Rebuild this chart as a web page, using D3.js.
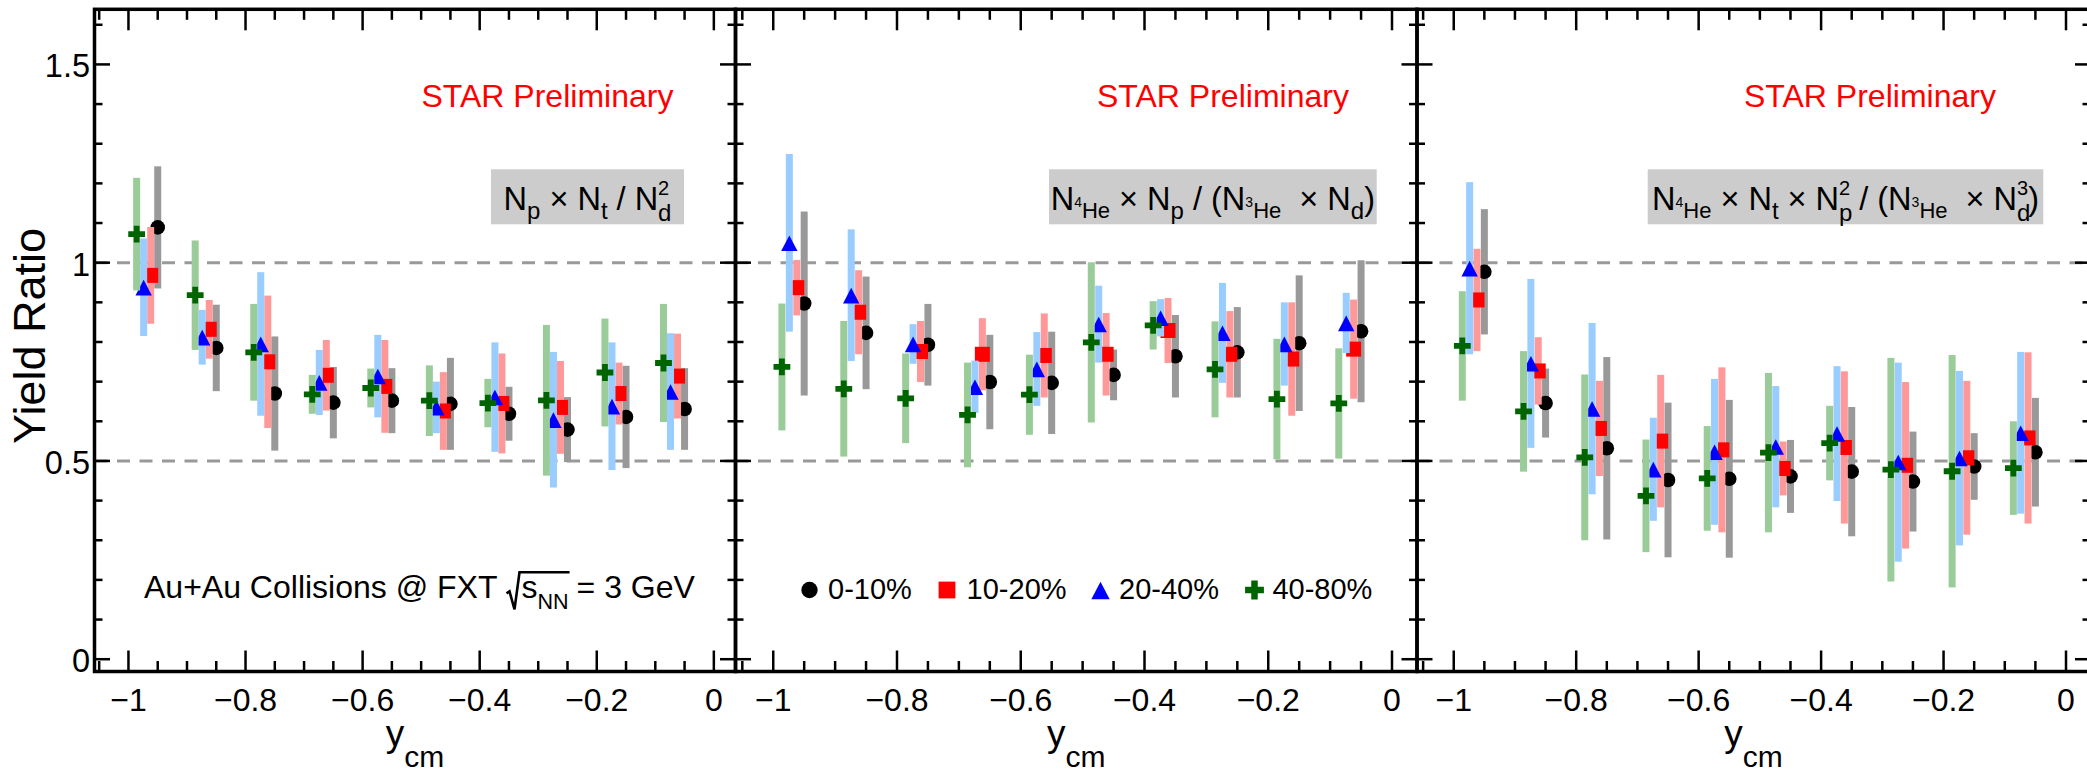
<!DOCTYPE html>
<html>
<head>
<meta charset="utf-8">
<script src="https://cdn.jsdelivr.net/npm/d3@7"></script>
<style>
  html, body { margin: 0; padding: 0; background: #fff; }
  svg { display: block; }
  text { font-family: "Liberation Sans", Arial, Helvetica, sans-serif; fill: #000; }
</style>
</head>
<body>
<svg id="chart" width="2087" height="778"></svg>
<script>
// ---------------------------------------------------------------------------
// Light-nuclei yield ratios vs rapidity, Au+Au @ 3 GeV, four centralities.
// Each point: central value and symmetric systematic uncertainty.
// ---------------------------------------------------------------------------
const rapidity = [-0.95, -0.85, -0.75, -0.65, -0.55, -0.45, -0.35, -0.25, -0.15, -0.05];
const centralityLabels = ["0-10%", "10-20%", "20-40%", "40-80%"];

const xTickValues = [-1, -0.8, -0.6, -0.4, -0.2, 0];
const xTickLabels = ["\u22121", "\u22120.8", "\u22120.6", "\u22120.4", "\u22120.2", "0"];
const yTickValues = [0, 0.5, 1, 1.5];
const yTickLabels = ["0", "0.5", "1", "1.5"];
const referenceLevels = [0.5, 1];

// Np x Nt / Nd^2
const r1_0010 = [1.089, 0.785, 0.670, 0.647, 0.652, 0.644, 0.619, 0.579, 0.611, 0.631];
const r1_0010_sys = [0.154, 0.109, 0.144, 0.090, 0.082, 0.116, 0.068, 0.082, 0.129, 0.103];
const r1_1020 = [0.968, 0.832, 0.750, 0.716, 0.688, 0.626, 0.645, 0.635, 0.670, 0.714];
const r1_1020_sys = [0.122, 0.074, 0.167, 0.089, 0.117, 0.098, 0.126, 0.117, 0.078, 0.107];
const r1_2040 = [0.938, 0.812, 0.795, 0.698, 0.714, 0.635, 0.661, 0.604, 0.638, 0.675];
const r1_2040_sys = [0.123, 0.069, 0.181, 0.082, 0.104, 0.065, 0.138, 0.171, 0.161, 0.147];
const r1_4080 = [1.072, 0.918, 0.774, 0.668, 0.684, 0.652, 0.646, 0.653, 0.723, 0.747];
const r1_4080_sys = [0.142, 0.138, 0.122, 0.049, 0.049, 0.089, 0.061, 0.190, 0.136, 0.149];

// N4He x Np / (N3He x Nd)
const r2_0010 = [0.897, 0.823, 0.793, 0.699, 0.697, 0.717, 0.764, 0.774, 0.797, 0.827];
const r2_0010_sys = [0.232, 0.142, 0.103, 0.119, 0.129, 0.064, 0.104, 0.114, 0.171, 0.179];
const r2_1020 = [0.937, 0.875, 0.776, 0.769, 0.766, 0.769, 0.829, 0.769, 0.757, 0.782];
const r2_1020_sys = [0.070, 0.106, 0.077, 0.091, 0.106, 0.104, 0.082, 0.109, 0.143, 0.125];
const r2_2040 = [1.050, 0.918, 0.795, 0.687, 0.732, 0.845, 0.861, 0.823, 0.795, 0.848];
const r2_2040_sys = [0.224, 0.166, 0.050, 0.066, 0.093, 0.097, 0.047, 0.126, 0.105, 0.076];
const r2_4080 = [0.737, 0.682, 0.658, 0.616, 0.667, 0.799, 0.842, 0.731, 0.656, 0.645];
const r2_4080_sys = [0.160, 0.171, 0.113, 0.132, 0.101, 0.202, 0.061, 0.121, 0.152, 0.139];

// N4He x Nt x Np^2 / (N3He x Nd^3)
const r3_0010 = [0.977, 0.646, 0.532, 0.452, 0.455, 0.461, 0.473, 0.448, 0.486, 0.522];
const r3_0010_sys = [0.158, 0.087, 0.230, 0.195, 0.199, 0.092, 0.163, 0.126, 0.084, 0.137];
const r3_1020 = [0.906, 0.727, 0.582, 0.550, 0.528, 0.481, 0.534, 0.489, 0.508, 0.558];
const r3_1020_sys = [0.129, 0.085, 0.120, 0.167, 0.208, 0.068, 0.192, 0.210, 0.194, 0.216];
const r3_2040 = [0.986, 0.746, 0.632, 0.479, 0.523, 0.536, 0.569, 0.497, 0.507, 0.571];
const r3_2040_sys = [0.217, 0.213, 0.216, 0.130, 0.184, 0.153, 0.170, 0.251, 0.220, 0.204];
const r3_4080 = [0.790, 0.625, 0.509, 0.412, 0.456, 0.521, 0.545, 0.478, 0.474, 0.482];
const r3_4080_sys = [0.138, 0.152, 0.209, 0.142, 0.132, 0.201, 0.094, 0.282, 0.293, 0.118];

// ---------------------------------------------------------------------------
// Styling and layout
// ---------------------------------------------------------------------------
const seriesStyle = [
  { shape: "circle",   color: "#000000", band: "#999999", shift: 0 },
  { shape: "square",   color: "#ff0000", band: "#ff9999", shift: -0.012 },
  { shape: "triangle", color: "#0000ff", band: "#99ccff", shift: -0.024 },
  { shape: "cross",    color: "#006400", band: "#99cc99", shift: -0.036 }
];
const BAND_W = 7;

const yDomain = [-0.031, 1.639];
const plotTop = 9.3, plotBottom = 671.5;

const M = 32.5, S = 24, P = 20, H = 22;  // formula font sizes (main, sub, sup, nucleus)
const SUB = 9, SUB2 = 11, SUP = -15;     // baseline shifts
const NB = "\u00a0";

const panels = [
  {
    x0: 94.5, x1: 735.5, xDomain: [-1.058, 0.037],
    series: [[r1_0010, r1_0010_sys], [r1_1020, r1_1020_sys], [r1_2040, r1_2040_sys], [r1_4080, r1_4080_sys]],
    starX: 421.5, box: [491, 684], yLabels: true,
    formula: [
      { t: "N", s: M }, { t: "p", s: S, d: SUB },
      { t: NB + "\u00d7" + NB + "N", s: M }, { t: "t", s: S, d: SUB },
      { t: NB + "/" + NB + "N", s: M }, { stack: [{ t: "d", s: S, d: SUB2 }, { t: "2", s: P, d: SUP }] }
    ]
  },
  {
    x0: 735.5, x1: 1417, xDomain: [-1.061, 0.0404],
    series: [[r2_0010, r2_0010_sys], [r2_1020, r2_1020_sys], [r2_2040, r2_2040_sys], [r2_4080, r2_4080_sys]],
    starX: 1097, box: [1049, 1376.7], yLabels: false, legend: true,
    formula: [
      { t: "N", s: M }, { t: "4", s: 14, d: -3 }, { t: "He", s: H, d: 8 },
      { t: NB + "\u00d7" + NB + "N", s: M }, { t: "p", s: S, d: SUB },
      { t: NB + "/" + NB + "(N", s: M }, { t: "3", s: 14, d: -3 }, { t: "He", s: H, d: 8 },
      { t: NB + NB + "\u00d7" + NB + "N", s: M }, { t: "d", s: S, d: SUB }, { t: ")", s: M }
    ]
  },
  {
    x0: 1417, x1: 2090.5, xDomain: [-1.06, 0.04],
    series: [[r3_0010, r3_0010_sys], [r3_1020, r3_1020_sys], [r3_2040, r3_2040_sys], [r3_4080, r3_4080_sys]],
    starX: 1744, box: [1647.7, 2043.3], yLabels: false,
    formula: [
      { t: "N", s: M }, { t: "4", s: 14, d: -3 }, { t: "He", s: H, d: 8 },
      { t: NB + "\u00d7" + NB + "N", s: M }, { t: "t", s: S, d: SUB },
      { t: NB + "\u00d7" + NB + "N", s: M }, { stack: [{ t: "p", s: S, d: SUB2 }, { t: "2", s: P, d: SUP }] },
      { t: NB + "/" + NB + "(N", s: M }, { t: "3", s: 14, d: -3 }, { t: "He", s: H, d: 8 },
      { t: NB + NB + "\u00d7" + NB + "N", s: M }, { stack: [{ t: "d", s: S, d: SUB2 }, { t: "3", s: P, d: SUP }] },
      { t: ")", s: M }
    ]
  }
];

const legendItems = [
  { markerX: 809.5, textX: 828 },
  { markerX: 947, textX: 966.6 },
  { markerX: 1100.5, textX: 1119 },
  { markerX: 1254.5, textX: 1272.4 }
];

// ---------------------------------------------------------------------------
// Helpers
// ---------------------------------------------------------------------------
const svg = d3.select("#chart");

function drawMarker(g, shape, cx, cy, color, k = 1) {
  if (shape === "circle") {
    g.append("circle").attr("cx", cx).attr("cy", cy).attr("r", 7.3 * k).attr("fill", color);
  } else if (shape === "square") {
    g.append("rect").attr("x", cx - 7.5 * k).attr("y", cy - 7.5 * k)
      .attr("width", 15 * k).attr("height", 15 * k).attr("fill", color);
  } else if (shape === "triangle") {
    g.append("path")
      .attr("d", `M${cx},${cy - 7.4 * k}L${cx + 8.2 * k},${cy + 8.2 * k}L${cx - 8.2 * k},${cy + 8.2 * k}Z`)
      .attr("fill", color);
  } else {
    const a = 8.4 * k, t = 2.9 * k;
    g.append("path")
      .attr("d", `M${cx - t},${cy - a}H${cx + t}V${cy - t}H${cx + a}V${cy + t}H${cx + t}V${cy + a}` +
                 `H${cx - t}V${cy + t}H${cx - a}V${cy - t}H${cx - t}Z`)
      .attr("fill", color);
  }
}

// One <text> element holding a formula: tspans carry the sub/superscript shifts,
// stacked scripts share a horizontal slot. Returns the element and its width.
function formulaText(g, parts, baseY) {
  const txt = g.append("text").attr("x", 0).attr("y", baseY);
  const span = (p, extra) => {
    const s = txt.append("tspan").attr("y", baseY + (p.d || 0))
      .style("font-size", p.s + "px").text(p.t);
    if (extra) s.attr("dx", extra);
    return s.node().getComputedTextLength();
  };
  parts.forEach(p => {
    if (p.stack) {
      const w0 = span(p.stack[0]);
      const w1 = span(p.stack[1], -w0);
      if (w1 < w0) txt.append("tspan").attr("dx", w0 - w1).style("font-size", "1px").text("");
    } else {
      span(p);
    }
  });
  return { el: txt, width: txt.node().getBBox().width };
}

const yScale = d3.scaleLinear().domain(yDomain).range([plotBottom, plotTop]);

// ---------------------------------------------------------------------------
// Panels
// ---------------------------------------------------------------------------
panels.forEach((pn, pi) => {
  const xScale = d3.scaleLinear().domain(pn.xDomain).range([pn.x0, pn.x1]);
  const g = svg.append("g");

  // dashed reference levels
  g.selectAll("line.ref").data(referenceLevels).enter().append("line")
    .attr("x1", pn.x0).attr("x2", Math.min(pn.x1, 2087))
    .attr("y1", d => yScale(d)).attr("y2", d => yScale(d))
    .attr("stroke", "#999999").attr("stroke-width", 3)
    .attr("stroke-dasharray", "13,9.5");

  // STAR Preliminary tag
  g.append("text").attr("x", pn.starX).attr("y", 106.5)
    .style("font-size", "32px").style("fill", "#ff0000").text("STAR Preliminary");

  // ratio definition box
  g.append("rect").attr("x", pn.box[0]).attr("y", 169.3)
    .attr("width", pn.box[1] - pn.box[0]).attr("height", 55)
    .attr("fill", "#cccccc");
  const f = formulaText(g, pn.formula, 209.5);
  f.el.attr("x", (pn.box[0] + pn.box[1]) / 2 - f.width / 2);

  // systematic bands and markers
  pn.series.forEach((sr, si) => {
    const st = seriesStyle[si];
    const [vals, sys] = sr;
    const sg = g.append("g");
    sg.selectAll("rect").data(vals).enter().append("rect")
      .attr("x", (d, i) => xScale(rapidity[i] + st.shift) - BAND_W / 2)
      .attr("width", BAND_W)
      .attr("y", (d, i) => yScale(d + sys[i]))
      .attr("height", (d, i) => yScale(d - sys[i]) - yScale(d + sys[i]))
      .attr("fill", st.band);
    vals.forEach((v, i) => drawMarker(sg, st.shape, xScale(rapidity[i] + st.shift), yScale(v), st.color));
  });

  // axes: frame, ticks on all four sides
  const ag = g.append("g").attr("stroke", "#000").attr("stroke-width", 2.5);
  const xMinor = d3.range(-1.05, 0.001, 0.05).map(v => +v.toFixed(2));
  const yMinor = d3.range(0, 1.61, 0.1).map(v => +v.toFixed(1));
  xMinor.forEach(v => {
    const major = xTickValues.some(t => Math.abs(t - v) < 1e-6);
    const len = major ? 21 : 10.5;
    const x = xScale(v);
    ag.append("line").attr("x1", x).attr("x2", x).attr("y1", plotBottom).attr("y2", plotBottom - len);
    ag.append("line").attr("x1", x).attr("x2", x).attr("y1", plotTop).attr("y2", plotTop + len);
  });
  yMinor.forEach(v => {
    const major = yTickValues.some(t => Math.abs(t - v) < 1e-6);
    const len = major ? 15.5 : 8;
    const y = yScale(v);
    ag.append("line").attr("x1", pn.x0).attr("x2", pn.x0 + len).attr("y1", y).attr("y2", y);
    ag.append("line").attr("x1", pn.x1).attr("x2", pn.x1 - len).attr("y1", y).attr("y2", y);
  });
  g.append("rect").attr("x", pn.x0).attr("y", plotTop)
    .attr("width", pn.x1 - pn.x0).attr("height", plotBottom - plotTop)
    .attr("fill", "none").attr("stroke", "#000").attr("stroke-width", 3.5);

  // tick labels
  g.selectAll("text.xt").data(xTickValues).enter().append("text")
    .attr("x", d => xScale(d)).attr("y", 711)
    .attr("text-anchor", "middle").style("font-size", "32px")
    .text((d, i) => xTickLabels[i]);
  if (pn.yLabels) {
    g.selectAll("text.yt").data(yTickValues).enter().append("text")
      .attr("x", 90).attr("y", d => yScale(d) + 13)
      .attr("text-anchor", "end").style("font-size", "32.5px")
      .text((d, i) => yTickLabels[i]);
  }

  // x-axis title y_cm
  const xt = formulaText(g, [{ t: "y", s: 37 }, { t: "cm", s: 30, d: 21 }], 746);
  xt.el.attr("x", (pn.x0 + Math.min(pn.x1, 2090)) / 2 - xt.width / 2);

  // collision system note in the first panel
  if (pi === 0) {
    const base = 598.3;
    const head = g.append("text").attr("x", 144).attr("y", base)
      .style("font-size", "32px").text("Au+Au Collisions @ FXT");
    const r0 = 144 + head.node().getComputedTextLength() + 13, rw = 9;
    const root = formulaText(g, [{ t: "s", s: 32 }, { t: "NN", s: 21.5, d: 11 }], base);
    root.el.attr("x", r0 + rw + 2);
    const rEnd = r0 + rw + 2 + root.width;
    g.append("path")
      .attr("d", `M${r0 - 4},${base - 5}L${r0 - 1},${base - 7}L${r0 + 4},${base + 11}L${r0 + rw},${base - 26}L${rEnd + 1},${base - 26}`)
      .attr("fill", "none").attr("stroke", "#000").attr("stroke-width", 2.6);
    g.append("text").attr("x", rEnd + 8).attr("y", base)
      .style("font-size", "32px").text("=" + NB + "3" + NB + "GeV");
  }

  // centrality legend in the middle panel
  if (pn.legend) {
    legendItems.forEach((it, i) => {
      drawMarker(g, seriesStyle[i].shape, it.markerX, 590, seriesStyle[i].color, 1.12);
      g.append("text").attr("x", it.textX).attr("y", 598.5)
        .style("font-size", "29px").text(centralityLabels[i]);
    });
  }
});

// y-axis title
svg.append("text")
  .attr("transform", "translate(45,336) rotate(-90)")
  .attr("text-anchor", "middle").style("font-size", "45px")
  .text("Yield Ratio");
</script>
</body>
</html>
